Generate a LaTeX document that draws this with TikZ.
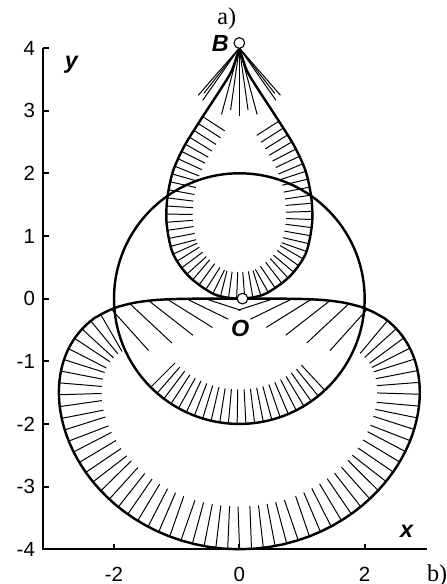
\documentclass[tikz,border=0pt]{standalone}
\usepackage{fontspec}
\setmainfont{Liberation Sans}
\newfontfamily\panelfont{Liberation Serif}
\usetikzlibrary{positioning, decorations.markings}

\tikzset{
  curve/.style={black, line width=1.1pt},
  hatch/.style={black, line width=0.45pt},
  axis/.style={black, line width=0.9pt},
  ticklabel/.style={font=\fontsize{9.3}{9.3}\selectfont, inner sep=1pt},
  axislabel/.style={font=\fontsize{10.6}{10.6}\selectfont\bfseries\itshape, inner sep=0pt},
  marker/.style={circle, draw=black, fill=white, line width=0.5pt,
                 inner sep=0pt, minimum size=1.7mm},
  hatched/.style 2 args={postaction={decorate, decoration={markings,
      mark=between positions #1 and -#1 step #2 with
      {\draw[hatch] (0,0) -- (0,\hatchlen);}}}},
}
\newcommand{\hatchlen}{0.68}

\begin{document}
\begin{tikzpicture}

\useasboundingbox (-3.82,-4.555) rectangle (3.299,4.766);

% ================================================================
% Axes
% ================================================================
\draw[axis] (-3.13,4) -- (-3.13,-4) -- (3.0,-4);
\foreach \y in {-4,...,4} {
  \draw[axis] (-3.13,\y) -- ++(0.09,0);
  \node[ticklabel, anchor=east] at (-3.22,\y) {\y};
}
\foreach \x in {-2,0,2} {
  \draw[axis] (\x,-4) -- ++(0,0.09);
  \node[ticklabel, anchor=north] at (\x,-4.24) {\x};
}
\node[axislabel] (ylab) at (-2.68,3.73) {y};
\node[axislabel] (xlab) at (2.67,-3.72) {x};

% ================================================================
% Lower curve (polar, r = 4 sin^0.27 phi)
% ================================================================
\draw[curve, hatched={2.25cm}{0.19cm}]
  (0,0) -- plot[domain=0.1:1, samples=70]
    ({-4*sin(90*\x^3)^0.27*cos(90*\x^3)}, {-4*sin(90*\x^3)^0.27*sin(90*\x^3)})
  -- plot[domain=1:0.1, samples=70]
    ({4*sin(90*\x^3)^0.27*cos(90*\x^3)}, {-4*sin(90*\x^3)^0.27*sin(90*\x^3)})
  -- cycle;

% long slanted strokes under the flat top
\foreach \x/\y/\a/\l in {-2.05/-0.16/48/0.9, -1.75/-0.08/43/0.92,
    -1.45/-0.03/38/0.9, -1.15/-0.01/32/0.85, -0.85/0/26/0.75, -0.55/0/18/0.6} {
  \draw[hatch] (\x,\y) -- ++(-\a:\l);
  \draw[hatch] (-\x,\y) -- ++(180+\a:\l);
}

% ================================================================
% Circle r = 2
% ================================================================
\draw[curve] (0,0) circle (2);
\foreach \a in {225,229,...,315}
  \draw[hatch] (\a:2) -- (\a:1.45);

% ================================================================
% Drop from O to B
% ================================================================
\renewcommand{\hatchlen}{0.42}
\draw[curve, hatched={1.25cm}{0.13cm}]
  plot[smooth] coordinates {(0,4) (-0.12,3.64) (-0.3,3.34) (-0.62,2.85)
    (-0.88,2.43) (-1.06,2.03) (-1.15,1.6) (-1.16,1.19) (-1.06,0.72)
    (-0.8,0.35) (-0.4,0.07) (0,0) (0.4,0.07) (0.8,0.35) (1.06,0.72)
    (1.16,1.19) (1.15,1.6) (1.06,2.03) (0.88,2.43) (0.62,2.85)
    (0.3,3.34) (0.12,3.64) (0,4)};

% fan at the tip
\coordinate (tip) at (0,4);
\foreach \a/\l in {0/1.08, 8/1.0, -8/1.0, 15/1.1, -15/1.1, 35/1.02,
    -35/1.02, 38/0.92, -38/0.92, 41/1.0, -41/1.0}
  \draw[hatch] (tip) -- ++(-90+\a:\l);

% ================================================================
% Points and labels
% ================================================================
\node[marker] (B) at (0,4.08) {};
\node[marker] (O) at (0.05,0) {};
\node[axislabel, left=2pt of B] (Blab) {B};
\node[axislabel, below=7pt of O, xshift=-1pt] (Olab) {O};

\node[font=\panelfont\fontsize{11}{11}\selectfont] (pa) at (-0.2,4.47) {a)};
\node[font=\panelfont\fontsize{11}{11}\selectfont, anchor=west, inner sep=0pt]
  (pb) at (2.99,-4.43) {b)};

\end{tikzpicture}
\end{document}
